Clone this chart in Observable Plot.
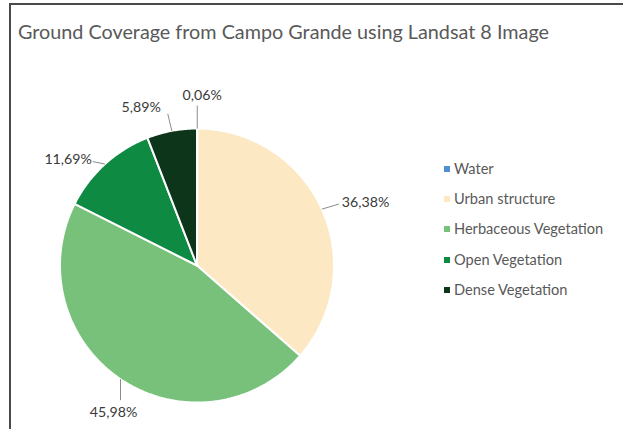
<!DOCTYPE html>
<html><head><meta charset="utf-8">
<script src="https://cdn.jsdelivr.net/npm/d3@7"></script>
<script src="https://cdn.jsdelivr.net/npm/@observablehq/plot@0.6"></script>
<style>
html,body{margin:0;padding:0;background:#fff;}
#wrap{position:relative;width:623px;height:429px;overflow:hidden;font-family:Lato,"Open Sans",sans-serif;background:#fff;}
#frame{position:absolute;left:9px;top:3px;width:640px;height:450px;border-top:2px solid #4a4a4a;border-left:2px solid #4a4a4a;}
#title{position:absolute;left:18px;top:19px;font-size:19.8px;color:#595959;white-space:nowrap;}
#chart{position:absolute;left:0;top:0;}
#legend{position:absolute;left:444px;top:154px;font-size:14.6px;color:#595959;}
#legend .item{height:30.2px;line-height:20px;display:flex;align-items:center;white-space:nowrap;}
#legend .sw{width:6px;height:6px;margin-right:4px;flex:none;}
</style></head>
<body>
<div id="wrap">
  <div id="frame"></div>
  <div id="chart"></div>
  <div id="title"></div>
  <div id="legend"></div>
</div>
<script>
// ---- data ----
const titleText = "Ground Coverage from Campo Grande using Landsat 8 Image";
const categories = ["Water", "Urban structure", "Herbaceous Vegetation", "Open Vegetation", "Dense Vegetation"];
const values = [0.06, 36.38, 45.98, 11.69, 5.89];
const valueLabels = ["0,06%", "36,38%", "45,98%", "11,69%", "5,89%"];
const colors = ["#4f8fd1", "#fde8c4", "#78c17a", "#0f8a42", "#0c3519"];

// ---- layout (pixels) ----
const cx = 196.5, cy = 265, R = 137;
// leader vector from slice edge, then text offset from leader end
const labelLayout = [
  {lx: 0, ly: -23, tx: 5, ty: -10, anchor: "middle"},
  {lx: 17, ly: -5, tx: 3, ty: -2, anchor: "start"},
  {lx: 0, ly: 21, tx: -7, ty: 12, anchor: "middle"},
  {lx: -12, ly: -2.5, tx: -1, ty: -2, anchor: "end"},
  {lx: -4, ly: -17, tx: -7, ty: -6, anchor: "end"}
];

const data = categories.map((c, i) => ({cat: c, value: values[i], label: valueLabels[i]}));
const arcs = d3.pie().sort(null).value(d => d.value)(data);

// slice polygons computed from pie angles
const pts = [];
arcs.forEach(a => {
  const cat = a.data.cat;
  pts.push({cat, x: 0, y: 0});
  const n = Math.max(2, Math.ceil((a.endAngle - a.startAngle) / 0.01));
  for (let k = 0; k <= n; k++) {
    const t = a.startAngle + (a.endAngle - a.startAngle) * k / n;
    pts.push({cat, x: Math.sin(t), y: Math.cos(t)});
  }
  pts.push({cat, x: 0, y: 0});
});

const leaders = arcs.map((a, i) => {
  const m = (a.startAngle + a.endAngle) / 2;
  const L = labelLayout[i];
  const x1 = Math.sin(m), y1 = Math.cos(m);
  const x2 = x1 + L.lx / R, y2 = y1 - L.ly / R;
  return {x1, y1, x2, y2, tx: x2 + L.tx / R, ty: y2 - L.ty / R, label: a.data.label, anchor: L.anchor};
});

const textMark = anchor => Plot.text(leaders.filter(d => d.anchor === anchor), {
  x: "tx", y: "ty", text: "label", textAnchor: anchor,
  fontSize: 14.2, fill: "#3a3a3a", fontFamily: "Lato, 'Open Sans', sans-serif"
});

const chart = Plot.plot({
  width: 623, height: 429, margin: 0,
  x: {domain: [-1, 1], range: [cx - R, cx + R], axis: null},
  y: {domain: [-1, 1], range: [cy + R, cy - R], axis: null},
  color: {domain: categories, range: colors},
  style: {background: "transparent"},
  marks: [
    Plot.line(pts, {x: "x", y: "y", z: "cat", fill: "cat", stroke: "white", strokeWidth: 2, strokeLinejoin: "miter"}),
    Plot.link(leaders, {x1: "x1", y1: "y1", x2: "x2", y2: "y2", stroke: "#8c8c8c", strokeWidth: 1}),
    textMark("start"), textMark("middle"), textMark("end")
  ]
});
document.getElementById("chart").appendChild(chart);
document.getElementById("title").textContent = titleText;

const leg = document.getElementById("legend");
categories.forEach((c, i) => {
  const it = document.createElement("div");
  it.className = "item";
  const sw = document.createElement("span");
  sw.className = "sw";
  sw.style.background = colors[i];
  const tx = document.createElement("span");
  tx.textContent = c;
  it.appendChild(sw); it.appendChild(tx);
  leg.appendChild(it);
});
</script>
</body></html>
